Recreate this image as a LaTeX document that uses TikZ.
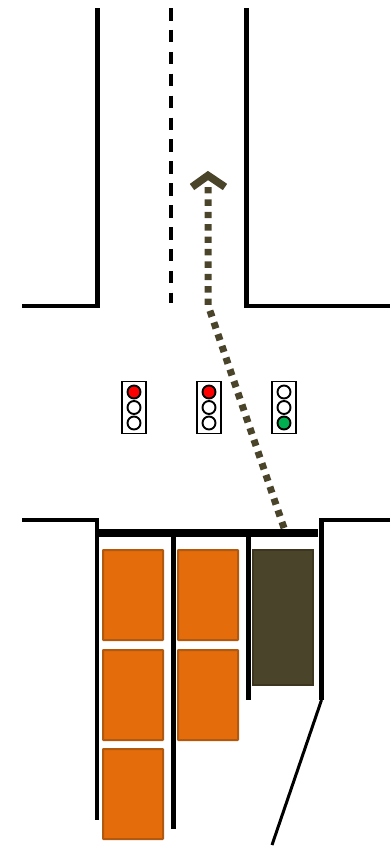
\documentclass[tikz,border=0pt]{standalone}
\begin{document}
\begin{tikzpicture}[x=1pt,y=-1pt,
  road/.style={draw=black,line width=4.2pt,line join=miter,line cap=butt},
  thick road/.style={draw=black,line width=7.6pt},
  carwait/.style={draw={rgb,255:red,178;green,89;blue,16},fill={rgb,255:red,228;green,108;blue,10},line width=2pt,rounded corners=0.6pt},
  cargo/.style={draw={rgb,255:red,60;green,54;blue,32},fill={rgb,255:red,74;green,69;blue,42},line width=2pt},
  housing/.style={draw=black,fill=white,line width=1.9pt},
  lamp/.style={draw=black,fill=white,line width=1.9pt,circle,inner sep=0pt,minimum size=13pt},
  lampred/.style={lamp,fill=red},
  lampgreen/.style={lamp,fill={rgb,255:red,0;green,176;blue,80}},
  route/.style={draw={rgb,255:red,74;green,69;blue,42},line width=7pt,dash pattern=on 6.4pt off 6pt},
  routehead/.style={draw={rgb,255:red,74;green,69;blue,42},line width=7.6pt,line join=miter}]
\useasboundingbox (0,0) rectangle (390,846);
% roads
\coordinate (tl0) at (97.5,8); \coordinate (tl1) at (97.5,306); \coordinate (tl2) at (22,306);
\coordinate (tr0) at (246.5,8); \coordinate (tr1) at (246.5,306); \coordinate (tr2) at (390,306);
\draw[road] (tl0) -- (tl1) -- (tl2);
\draw[road] (tr0) -- (tr1) -- (tr2);
\coordinate (c0) at (171,8); \coordinate (c1) at (171,303);
\draw[draw=black,line width=3.4pt,dash pattern=on 12.5pt off 9.4pt] (c0) -- (c1);
\coordinate (bl0) at (22,520); \coordinate (bl1) at (97,520); \coordinate (bl2) at (97,820);
\draw[road] (bl0) -- (bl1) -- (bl2);
\coordinate (br0) at (390,520); \coordinate (br1) at (321.5,520); \coordinate (br2) at (321.5,700); \coordinate (br3) at (272,845);
\draw[road] (br0) -- (br1) -- (br2);
\draw[draw=black,line width=3pt] (br2) -- (br3);
\coordinate (s0) at (95,533); \coordinate (s1) at (318,533);
\draw[thick road] (s0) -- (s1);
\coordinate (d0) at (173.5,533); \coordinate (d1) at (173.5,829);
\coordinate (e0) at (248.5,533); \coordinate (e1) at (248.5,700);
\draw[road,line width=4.4pt] (d0) -- (d1);
\draw[road,line width=5.6pt] (e0) -- (e1);
% cars
\draw[carwait] (103,550) rectangle (163,640);
\draw[carwait] (178,550) rectangle (238,640);
\draw[carwait] (103,650) rectangle (163,740);
\draw[carwait] (178,650) rectangle (238,740);
\draw[carwait] (103,749) rectangle (163,839);
\draw[cargo] (253,550) rectangle (313,685);
% lights
\foreach \cx/\a/\b/\c in {134/lampred/lamp/lamp,209/lampred/lamp/lamp,284/lamp/lamp/lampgreen}{
  \draw[housing] (\cx-12,381.5) rectangle (\cx+12,433.5);
  \node[\a] (a\cx) at (\cx,392) {};
  \node[\b] (b\cx) at (\cx,407.5) {};
  \node[\c] (c\cx) at (\cx,423) {};
}
% route
\coordinate (r0) at (284,528); \coordinate (r1) at (208,305); \coordinate (r2) at (208,187);
\draw[route] (r0) -- (r1) -- (r2);
\coordinate (h0) at (192,187); \coordinate (h1) at (208,175.5); \coordinate (h2) at (225,187);
\draw[routehead] (h0) -- (h1) -- (h2);
\end{tikzpicture}
\end{document}
